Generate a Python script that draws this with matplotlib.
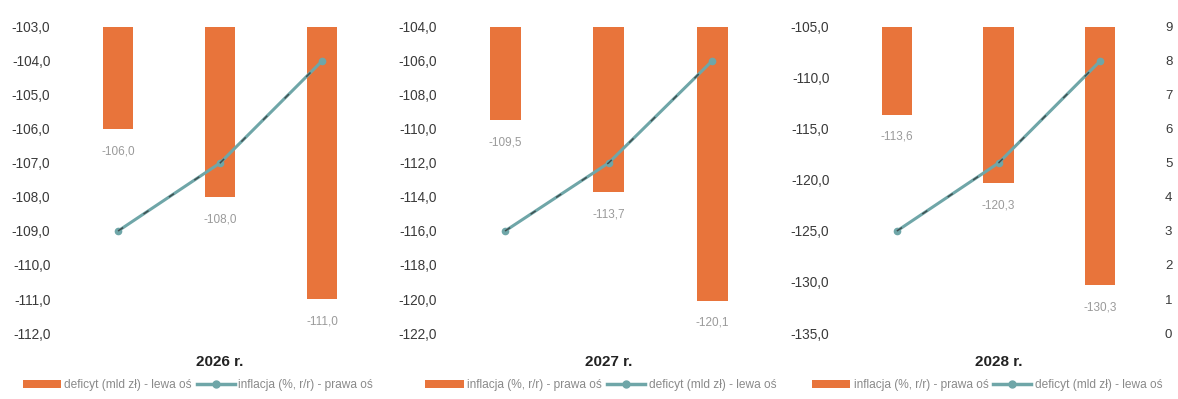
import matplotlib.pyplot as plt
from matplotlib.patches import Patch
from matplotlib.lines import Line2D

plt.rcParams['font.family'] = ['Liberation Sans', 'DejaVu Sans']

# data
years = ['2026 r.', '2027 r.', '2028 r.']
deficit_2026 = [-106.0, -108.0, -111.0]
deficit_2027 = [-109.5, -113.7, -120.1]
deficit_2028 = [-113.6, -120.3, -130.3]
inflation = [3.0, 5.0, 8.0]

left_limits = [(-112, -103), (-122, -104), (-135, -105)]
left_steps = [1, 2, 5]
right_limits = (0, 9)

bar_label_1 = 'deficyt (mld zł) - lewa oś'
line_label_1 = 'inflacja (%, r/r) - prawa oś'
# panels 2 and 3 have the legend labels swapped in the original
bar_labels = [bar_label_1, line_label_1, line_label_1]
line_labels = [line_label_1, bar_label_1, bar_label_1]

bar_color = '#E8743B'
line_color = '#6FA6A8'
text_color = '#3a3a3a'
label_grey = '#9a9a9a'

deficits = [deficit_2026, deficit_2027, deficit_2028]
axes_pos = [
    [0.0569, 0.1654, 0.2598, 0.767],
    [0.3848, 0.1654, 0.2636, 0.767],
    [0.7182, 0.1654, 0.2589, 0.767],
]
legend_x = [0.168, 0.51, 0.838]

fig = plt.figure(figsize=(11.78, 3.99), dpi=100)

for i in range(3):
    ax = fig.add_axes(axes_pos[i])
    x = list(range(len(deficits[i])))
    ax.bar(x, deficits[i], width=0.3, color=bar_color, zorder=2)
    lo, hi = left_limits[i]
    ax.set_ylim(lo, hi)
    ax.set_xlim(-0.5, 2.5)
    ticks = list(range(hi, lo - 1, -left_steps[i]))
    ax.set_yticks(ticks)
    ax.set_yticklabels([f'{t:.1f}'.replace('.', ',') for t in ticks],
                       fontsize=9.8, color=text_color)
    ax.set_xticks([])
    ax.tick_params(axis='y', length=0, pad=12)
    for s in ax.spines.values():
        s.set_visible(False)

    # value labels below the bar ends
    for xi, v in zip(x, deficits[i]):
        ax.annotate(f'{v:.1f}'.replace('.', ','), (xi, v), xytext=(0, -16),
                    textcoords='offset points', ha='center', va='center',
                    fontsize=8.5, color=label_grey)

    ax.text(1, -0.095, years[i], transform=ax.get_xaxis_transform(),
            ha='center', va='center', fontsize=11, fontweight='bold',
            color='#222222')

    ax2 = ax.twinx()
    ax2.plot(x, inflation, color=line_color, linewidth=2.2, marker='o',
             markersize=4.5, zorder=3)
    # dark scan streak over the line
    ax2.plot(x, inflation, color='#2b2b2b', linewidth=1.1,
             dashes=(4, 16), alpha=0.7, zorder=4)
    ax2.set_ylim(*right_limits)
    ax2.set_yticks(range(0, 10))
    ax2.tick_params(axis='y', length=0, pad=10, labelsize=9.5,
                    labelcolor=text_color)
    if i < 2:
        ax2.set_yticklabels([])
    for s in ax2.spines.values():
        s.set_visible(False)

    handles = [
        Patch(facecolor=bar_color, edgecolor='none'),
        Line2D([0], [0], color=line_color, linewidth=2.5, marker='o',
               markersize=5),
    ]
    fig.legend(handles, [bar_labels[i], line_labels[i]], loc='center',
               bbox_to_anchor=(legend_x[i], 0.035), ncol=2, frameon=False,
               fontsize=8.6, labelcolor='#8a8a8a', handlelength=3.2,
               handleheight=0.6, columnspacing=0.4, handletextpad=0.3)

fig.savefig('out.png', dpi=100)
